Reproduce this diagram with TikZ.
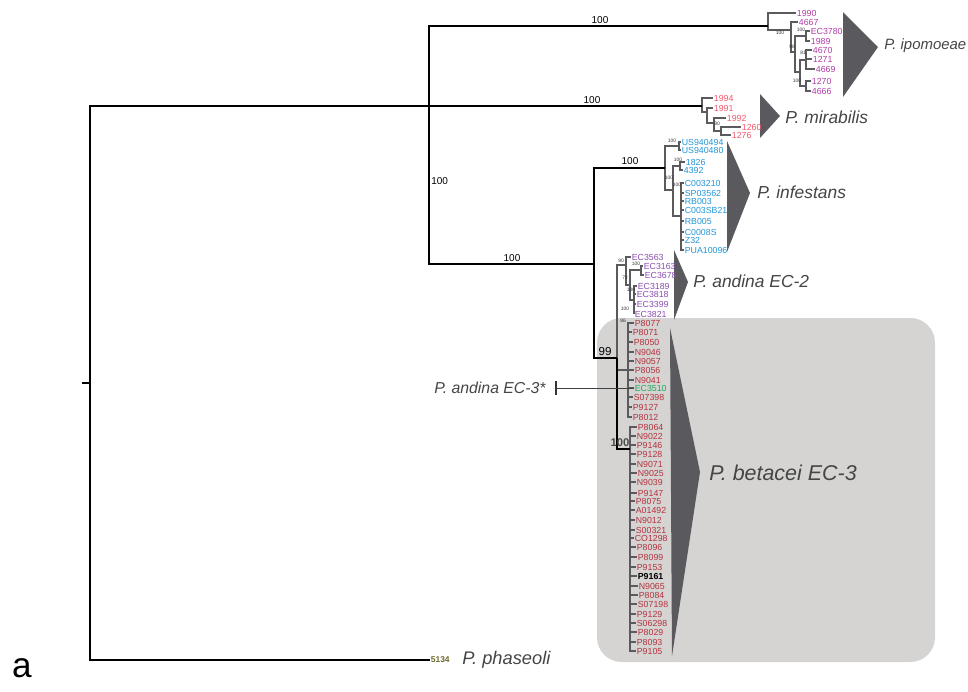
\documentclass[tikz,border=0pt]{standalone}
\usepackage{fontspec}
\setmainfont{Liberation Sans}
\definecolor{ipoc}{HTML}{B03DA5}
\definecolor{mirc}{HTML}{F2566B}
\definecolor{infc}{HTML}{1F95D6}
\definecolor{ecdos}{HTML}{8A4DAD}
\definecolor{ectres}{HTML}{B5323F}
\definecolor{ecverde}{HTML}{22A65C}
\definecolor{phac}{HTML}{6E6A2C}
\definecolor{caixa}{HTML}{D5D4D2}
\definecolor{ramo}{HTML}{5B5B5E}
\definecolor{cunha}{HTML}{5A5A5E}
\definecolor{rotulo}{HTML}{454545}
\begin{document}
\begin{tikzpicture}[x=0.02cm, y=-0.02cm]
  \tikzstyle{main}=[draw=black, line width=1.1pt]
  \tikzstyle{sub}=[draw=ramo, line width=1.3pt]
  \tikzstyle{leaf}=[anchor=west, inner sep=0.3pt, font=\fontsize{5}{5}\selectfont]
  \tikzstyle{boot}=[inner sep=0pt, font=\fontsize{2.8}{3}\selectfont, text=black!80]
  \tikzstyle{bootbig}=[inner sep=0pt, font=\fontsize{5.7}{6}\selectfont]
  \tikzstyle{spec}=[anchor=west, inner sep=0pt, font=\fontsize{9.9}{11}\selectfont\itshape, text=rotulo]
  \tikzstyle{wedge}=[fill=cunha, draw=none]

  \useasboundingbox (0,0) rectangle (968,691);

  % caixa de fundo
  \fill[caixa, rounded corners=14pt] (597,318) rectangle (935,662);

  % cunhas dos clados
  \fill[wedge] (843,12) -- (878,47) -- (843,97) -- cycle;
  \fill[wedge] (760,94) -- (780,116) -- (760,138) -- cycle;
  \fill[wedge] (727,141) -- (750,193) -- (727,252) -- cycle;
  \fill[wedge] (674,250) -- (688,282) -- (674,320) -- cycle;
  \fill[wedge] (670,328) -- (700,472) -- (672,656) -- cycle;

  % nos internos
  \coordinate (rootTick) at (82,383);
  \coordinate (root) at (90,383);
  \coordinate (nA) at (429,106);
  \coordinate (nB) at (594,264);
  \coordinate (n99) at (617,358);
  \coordinate (iR) at (768,26);
  \coordinate (i1) at (791,30);
  \coordinate (i2) at (795,52);
  \coordinate (i3) at (806,36);
  \coordinate (i4) at (800,72);
  \coordinate (i5) at (806,60);
  \coordinate (i6) at (806,86);
  \coordinate (mR) at (702,106);
  \coordinate (m1) at (707,112);
  \coordinate (m2) at (714,123);
  \coordinate (m3) at (721,131);
  \coordinate (fR) at (665,168);
  \coordinate (fa) at (679,146);
  \coordinate (fb) at (673,190);
  \coordinate (fc) at (680,166);
  \coordinate (fd) at (681,216);
  \coordinate (ec2R) at (626,265);
  \coordinate (e1) at (630,285);
  \coordinate (e2) at (641,270);
  \coordinate (e3) at (634,300);
  \coordinate (ec3R) at (628,370);
  \coordinate (bet100) at (630,449);
  \coordinate (tick) at (556,388);

  % folhas
  \foreach \t/\x/\y [count=\c] in {1990/796/13, 4667/798/22, EC3780/810/31, 1989/810/41, 4670/812/50, 1271/812/59, 4669/815/69, 1270/811/81, 4666/811/91}
    \node[leaf, text=ipoc] (ipo\c) at (\x,\y) {\t};
  \foreach \t/\x/\y [count=\c] in {1994/713/98, 1991/713/108, 1992/726/118, 1260/741/127, 1276/731/135}
    \node[leaf, text=mirc] (mir\c) at (\x,\y) {\t};
  \foreach \t/\x/\y [count=\c] in {US940494/681/142, US940480/681/150, 1826/685/162, 4392/683/170, C003210/684/183, SP03562/684/193, RB003/684/201, C003SB21/684/210, RB005/684/221, C0008S/684/232, Z32/684/240, PUA10096/684/250}
    \node[leaf, text=infc] (inf\c) at (\x,\y) {\t};
  \foreach \t/\x/\y [count=\c] in {EC3563/631/257, EC3163/643/266, EC3678/644/275, EC3189/637/286, EC3818/636/294, EC3399/636/304, EC3821/634/314}
    \node[leaf, text=ecdos] (ecd\c) at (\x,\y) {\t};
  \foreach \t/\x/\y/\cor [count=\c] in {P8077/634/323/ectres, P8071/632/332/ectres, P8050/633/342/ectres, N9046/634/352/ectres, N9057/634/361/ectres, P8056/634/370/ectres, N9041/634/380/ectres, EC3510/634/388/ecverde, S07398/633/397/ectres, P9127/632/407/ectres, P8012/632/417/ectres}
    \node[leaf, text=\cor] (ect\c) at (\x,\y) {\t};
  \foreach \t/\x/\y [count=\c] in {P8064/637/427, N9022/636/436, P9146/636/445, P9128/636/454, N9071/636/464, N9025/637/473, N9039/636/482, P9147/637/493, P8075/635/501, A01492/635/510, N9012/635/520, S00321/635/530, CO1298/634/538, P8096/636/547, P8099/637/557, P9153/636/567, {\textcolor{black}{\bfseries P9161}}/637/576, N9065/638/586, P8084/638/595, S07198/637/604, P9129/636/614, S06298/636/623, P8029/637/632, P8093/636/642, P9105/636/651}
    \node[leaf, text=ectres] (bet\c) at (\x,\y) {\t};
  \node[leaf, text=phac, font=\fontsize{4.8}{5}\selectfont\bfseries] (phas) at (430,660) {5134};

  % ramos dos clados (cinza)
  \draw[sub] (iR) |- (ipo1.west) (iR) |- (i1) (i1) |- (ipo2.west) (i1) |- (i2)
    (i2) |- (i3) (i2) |- (i4) (i3) |- (ipo3.west) (i3) |- (ipo4.west)
    (i4) |- (i5) (i4) |- (i6) (i6) |- (ipo8.west) (i6) |- (ipo9.west);
  \foreach \c in {5,6,7} \draw[sub] (i5) |- (ipo\c.west);
  \draw[sub] (mR) |- (mir1.west) (mR) |- (m1) (m1) |- (mir2.west) (m1) |- (m2)
    (m2) |- (mir3.west) (m2) |- (m3) (m3) |- (mir4.west) (m3) |- (mir5.west);
  \draw[sub] (fR) |- (fa) (fR) |- (fb) (fa) |- (inf1.west) (fa) |- (inf2.west)
    (fb) |- (fc) (fb) |- (fd) (fc) |- (inf3.west) (fc) |- (inf4.west);
  \foreach \c in {5,...,12} \draw[sub] (fd) |- (inf\c.west);
  \draw[sub] (n99) |- (ec2R) (ec2R) |- (ecd1.west) (ec2R) |- (e1) (e1) |- (e2) (e1) |- (e3)
    (e2) |- (ecd2.west) (e2) |- (ecd3.west);
  \foreach \c in {4,...,7} \draw[sub] (e3) |- (ecd\c.west);
  \draw[sub] (n99) |- (ec3R);
  \foreach \c in {1,...,11} \draw[sub] (ec3R) |- (ect\c.west);
  \foreach \c in {1,...,25} \draw[sub] (bet100) |- (bet\c.west);

  % arvore principal
  \draw[main] (rootTick) -- (root);
  \draw[main] (root) |- (nA) (root) |- (phas.west);
  \draw[main] (nA) |- (iR) (nA) -- (mR) (nA) |- (nB);
  \draw[main] (nB) |- (fR) (nB) |- (n99) (n99) |- (bet100);

  % EC-3*
  \draw[black!80, line width=0.8pt] (556,381) -- (556,395);
  \draw[black!75, line width=0.5pt] (tick) -- (ect8.west);

  % suportes
  \node[bootbig] (b1) at (600,20) {100};
  \node[bootbig] (b2) at (592,100) {100};
  \node[bootbig, anchor=west] (b3) at (431,181) {100};
  \node[bootbig] (b4) at (512,258) {100};
  \node[bootbig] (b5) at (630,161) {100};
  \node[bootbig, font=\fontsize{6.6}{7}\selectfont] (b6) at (605,351) {99};
  \node[bootbig, font=\fontsize{6.4}{7}\selectfont\bfseries, text=black!70] (b7) at (620,443) {100};
  \node[boot] at (780,33) {100};
  \node[boot] at (801,30) {100};
  \node[boot] at (792,47) {98};
  \node[boot] at (803,53) {81};
  \node[boot] at (797,81) {100};
  \node[boot] at (717,124) {90};
  \node[boot] at (672,141) {100};
  \node[boot] at (669,178) {100};
  \node[boot] at (678,160) {100};
  \node[boot] at (677,185) {100};
  \node[boot] at (621,261) {90};
  \node[boot] at (636,264) {100};
  \node[boot] at (625,278) {72};
  \node[boot] at (631,290) {100};
  \node[boot] at (625,309) {100};
  \node[boot] at (623,321) {86};

  % nomes das especies
  \node[spec, font=\fontsize{8.5}{10}\selectfont\itshape] (sp1) at (884,46) {P. ipomoeae};
  \node[spec] (sp2) at (785,117) {P. mirabilis};
  \node[spec] (sp3) at (757,192) {P. infestans};
  \node[spec] (sp4) at (693,281) {P. andina EC-2};
  \node[spec, font=\fontsize{12.2}{14}\selectfont\itshape] (sp5) at (709,473) {P. betacei EC-3};
  \node[spec, anchor=east, font=\fontsize{9}{10}\selectfont\itshape] (sp6) at (546,388) {P. andina EC-3*};
  \node[spec, font=\fontsize{10.4}{12}\selectfont\itshape] (sp7) at (462,660) {P. phaseoli};
  \node[font=\fontsize{20}{22}\selectfont, inner sep=0pt] (lbl) at (22,668) {a};
\end{tikzpicture}
\end{document}
